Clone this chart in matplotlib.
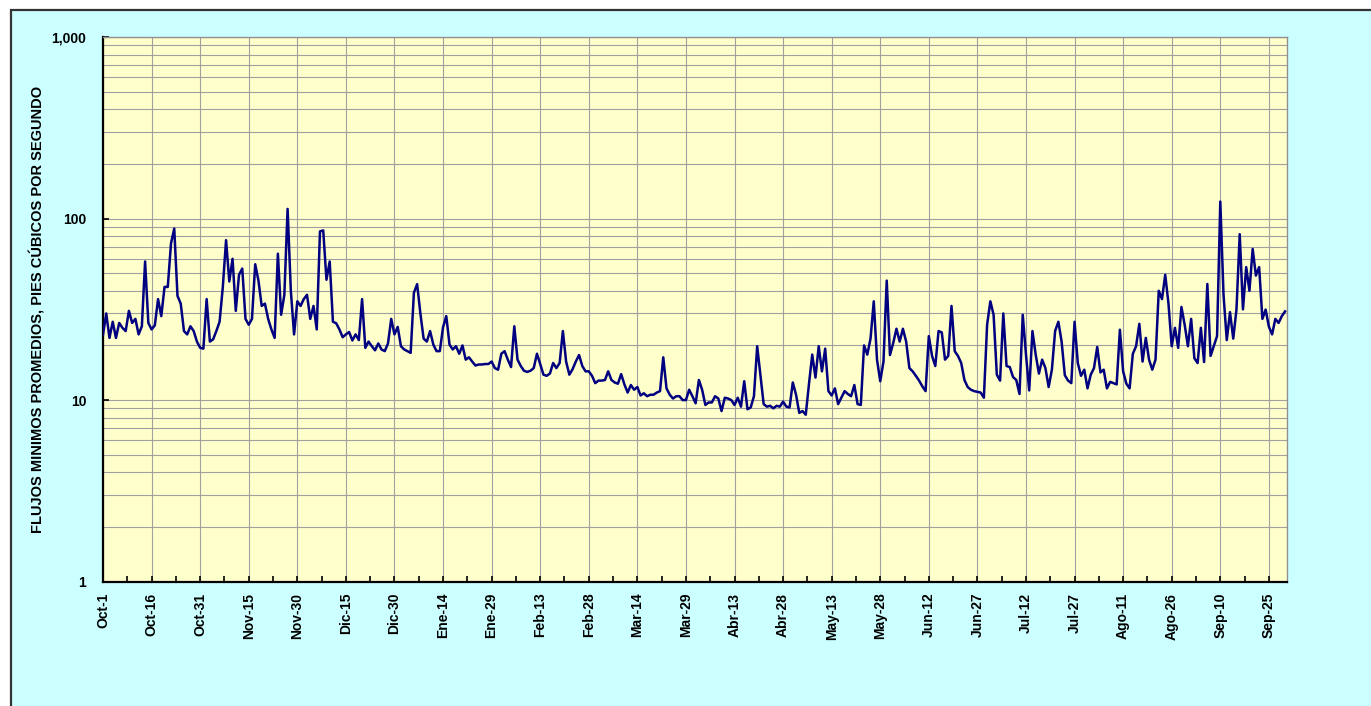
import numpy as np
import matplotlib
matplotlib.use('Agg')
from matplotlib import pyplot as plt
from matplotlib.ticker import FixedLocator, LogLocator, NullFormatter
from matplotlib.patches import Rectangle

#Flujos minimos promedios diarios (pcs), año hidrologico Oct-1 a Sep-30 (bisiesto)
oct_q = [22.9, 30, 22, 27, 22, 26.6, 25, 24, 31, 26.6, 28, 23, 25.5, 58, 26.6, 24.5,
         25.8, 36, 29, 42, 42, 73, 88, 37.5, 34, 24, 23, 25.5, 24, 21, 19.4]
nov_q = [19.2, 36, 21, 21.6, 24, 27, 42, 76, 45, 60, 31, 49, 53, 28, 26, 28, 56, 45.5,
         33, 34, 28, 24.5, 22, 64, 29.5, 38, 113, 40, 23, 35]
dic_q = [33, 36, 38, 28, 33, 24.5, 85, 86, 46, 58, 27, 26.5, 24.5, 22.2, 23, 23.7, 21.3,
         23, 21.4, 36, 19.4, 21, 19.8, 18.8, 20.5, 19, 18.6, 20.5, 28, 23, 25.3]
ene_q = [19.8, 19, 18.6, 18.2, 39, 43.5, 30, 21.8, 21, 24, 20.2, 18.6, 18.6, 25.2, 29,
         20.2, 19, 19.8, 18, 20, 16.7, 17.2, 16.3, 15.5, 15.7, 15.7, 15.8, 15.8, 16.3, 15, 14.7]
feb_q = [18, 18.6, 16.7, 15.2, 25.5, 16.7, 15.4, 14.5, 14.3, 14.5, 15, 18, 15.8, 13.8, 13.6,
         14, 16, 15, 16, 24, 16.3, 13.8, 14.8, 16.3, 17.7, 15.4, 14.4, 14.4, 13.6]
mar_q = [12.4, 12.8, 12.8, 12.9, 14.4, 12.9, 12.5, 12.3, 13.9, 12.2, 11, 12.1, 11.4, 11.8,
         10.6, 10.9, 10.5, 10.7, 10.7, 11.0, 11.2, 17.2, 11.6, 10.7, 10.2, 10.5, 10.5, 10.0,
         10.0, 11.4, 10.5]
abr_q = [9.6, 12.9, 11.4, 9.4, 9.7, 9.7, 10.5, 10.2, 8.7, 10.3, 10.2, 10.0, 9.4, 10.3, 9.2,
         12.7, 8.9, 9.1, 10.5, 19.8, 13.8, 9.5, 9.2, 9.3, 9.0, 9.3, 9.2, 9.8, 9.2, 9.1]
may_q = [12.5, 10.7, 8.5, 8.7, 8.3, 12.3, 17.8, 13.3, 19.8, 14.4, 19.2, 11.2, 10.6, 11.6,
         9.5, 10.3, 11.2, 10.8, 10.5, 12.1, 9.5, 9.4, 20, 17.8, 21.8, 35, 16.7, 12.7, 16.3,
         45.5, 17.7]
jun_q = [20.6, 24.7, 21, 24.7, 21, 15, 14.4, 13.6, 12.8, 11.9, 11.2, 22.5, 17.5, 15.4, 24,
         23.6, 16.7, 17.5, 33, 18.6, 17.5, 16, 12.9, 11.8, 11.4, 11.2, 11.1, 11, 10.3, 26]
jul_q = [35, 29.5, 13.8, 12.8, 30, 15.4, 15.2, 13.4, 12.9, 10.8, 29.5, 17.8, 11.3, 24, 17.8,
         14, 16.7, 15, 11.8, 14.7, 24, 27, 21, 13.7, 12.8, 12.4, 27, 16, 13.6, 14.7, 11.6]
ago_q = [13.8, 15, 19.6, 14.2, 14.7, 11.6, 12.6, 12.4, 12.2, 24.4, 14.4, 12.3, 11.6, 18,
         19.8, 26.3, 16.3, 22, 16.7, 14.7, 16.7, 40, 36, 49, 34, 19.8, 25, 19.4, 32.6, 26, 19.8]
sep_q = [28, 17, 16, 25, 16.2, 43.6, 17.5, 19.8, 22.5, 124, 38, 21.4, 30.5, 21.8, 31.6, 82,
         31.6, 54, 40, 68, 48.5, 54, 28, 31.5, 25.4, 23, 28, 26.6, 29, 30.8]

tick_labels = ['Oct-1', 'Oct-16', 'Oct-31', 'Nov-15', 'Nov-30', 'Dic-15', 'Dic-30',
               'Ene-14', 'Ene-29', 'Feb-13', 'Feb-28', 'Mar-14', 'Mar-29', 'Abr-13',
               'Abr-28', 'May-13', 'May-28', 'Jun-12', 'Jun-27', 'Jul-12', 'Jul-27',
               'Ago-11', 'Ago-26', 'Sep-10', 'Sep-25']
y_ticks = [1, 10, 100, 1000]
y_labels = ['1', '10', '100', '1,000']

flujo = np.array(oct_q + nov_q + dic_q + ene_q + feb_q + mar_q + abr_q + may_q
                 + jun_q + jul_q + ago_q + sep_q)
dias = np.arange(len(flujo))

plt.rcParams['font.family'] = ['Liberation Sans', 'DejaVu Sans']
plt.rcParams['font.weight'] = 'bold'

W, H = 1371, 706
fig = plt.figure(figsize=(W/100, H/100), dpi=100)
fig.patch.set_facecolor('white')
#Marco exterior cyan (detras de los ejes)
fig.patches.append(Rectangle((11/W, -0.1), 1.2, 1 - 10/H + 0.1, transform=fig.transFigure,
                             facecolor='#CCFFFF', edgecolor='#333333', lw=1.6, zorder=-5))

ax = fig.add_axes([103/W, 1 - 581.6/H, (1287 - 103)/W, (581.6 - 37)/H])
ax.set_zorder(1)
ax.set_facecolor('#FFFFCC')
ax.set_axisbelow(True)

#Serie diaria
ax.plot(dias, flujo, color='#000080', lw=1.8, zorder=3)

ax.set_yscale('log')
ax.set_ylim(1, 1000)
ax.set_xlim(0, 365.6)

ax.yaxis.set_major_locator(FixedLocator(y_ticks))
ax.set_yticklabels(y_labels)
ax.yaxis.set_minor_locator(LogLocator(base=10, subs=range(2, 10)))
ax.yaxis.set_minor_formatter(NullFormatter())

ticks_x = np.arange(len(tick_labels))*15
ax.set_xticks(ticks_x)
ax.set_xticklabels(tick_labels, rotation=90)
ax.set_xticks(ticks_x[:-1] + 7.5, minor=True)

ax.grid(axis='y', which='both', color='#A0A0A0', lw=0.8)
ax.grid(axis='x', which='major', color='#A0A0A0', lw=0.8)

ax.tick_params(axis='both', which='major', direction='in', length=4, width=1.2,
               color='black', labelsize=10)
ax.tick_params(axis='y', which='major', pad=12)
ax.tick_params(axis='x', which='major', pad=8)
ax.tick_params(axis='y', which='minor', length=0)
ax.tick_params(axis='x', which='minor', direction='in', length=4, width=1.2)

for s in ['left', 'bottom']:
    ax.spines[s].set_color('black')
    ax.spines[s].set_linewidth(1.6)
for s in ['top', 'right']:
    ax.spines[s].set_color('#909090')
    ax.spines[s].set_linewidth(1)

fig.text(38/W, 1 - 309/H, 'FLUJOS MINIMOS PROMEDIOS, PIES CÚBICOS POR SEGUNDO',
         rotation=90, ha='center', va='center', fontsize=10.5, fontweight='bold')

fig.savefig('out.png', dpi=100)
